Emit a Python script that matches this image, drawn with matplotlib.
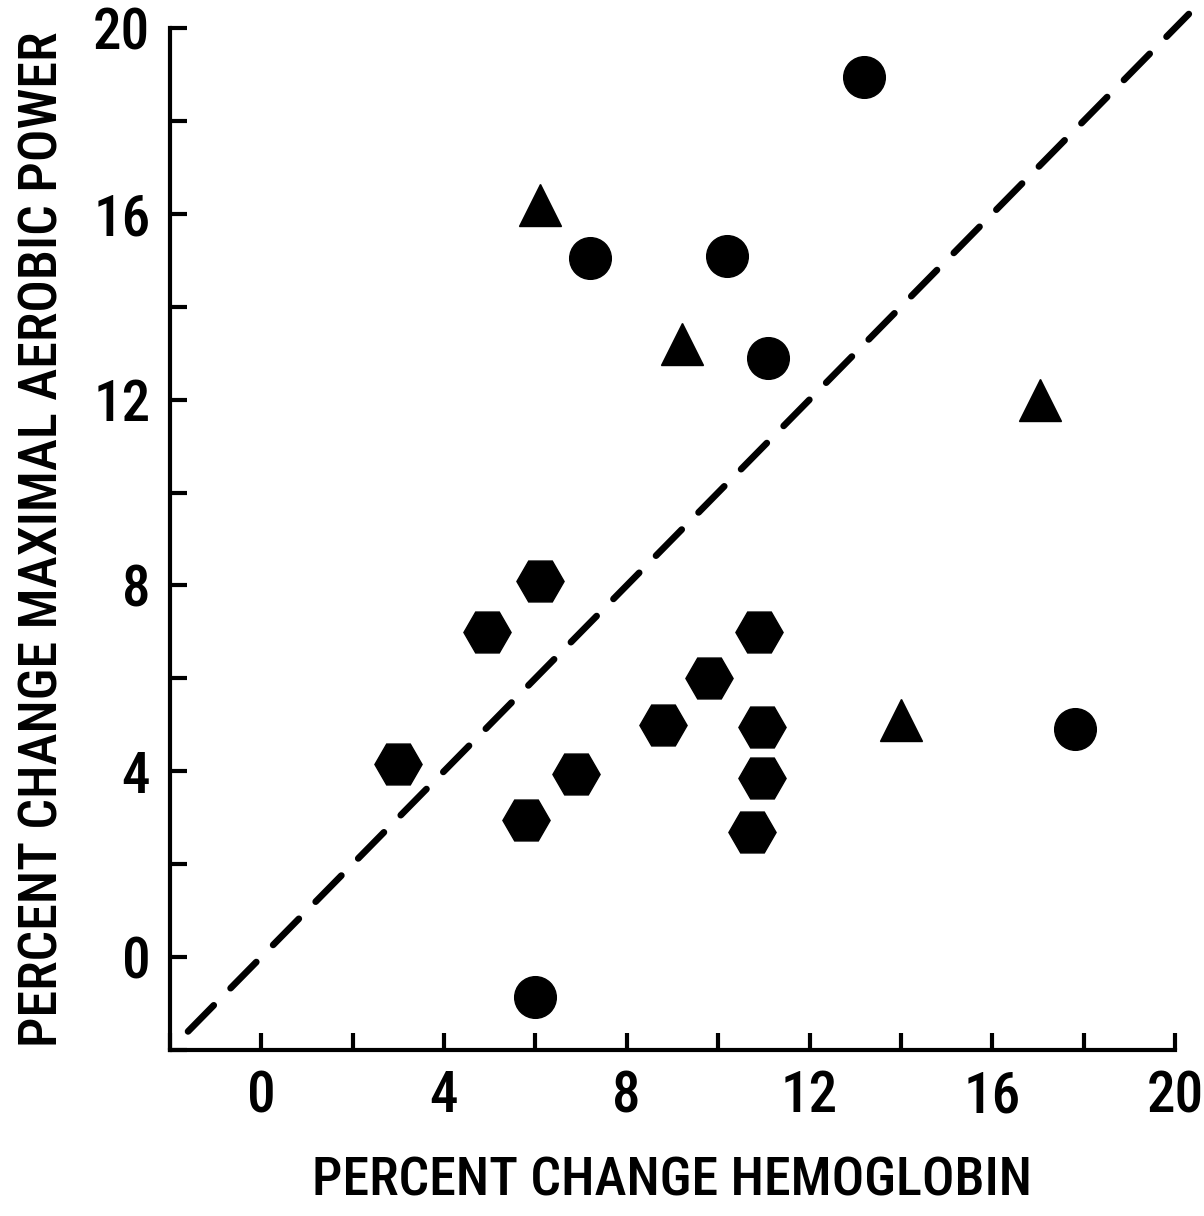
import matplotlib
matplotlib.use('Agg')
import numpy as np
from matplotlib import pyplot as plt
from matplotlib import font_manager

names = sorted(set(f.name for f in font_manager.fontManager.ttflist))
fam = 'Liberation Sans'
for cand in ['Roboto Condensed', 'Liberation Sans Narrow', 'Open Sans Condensed', 'Noto Sans Condensed']:
    if cand in names:
        fam = cand
        break
plt.rcParams['font.family'] = [fam, 'DejaVu Sans']
plt.rcParams['font.weight'] = 'medium'
plt.rcParams['axes.labelweight'] = 'medium'

# circles
circle_x = [13.2, 7.2, 10.2, 11.1, 17.8, 6.0]
circle_y = [18.95, 15.05, 15.1, 12.9, 4.9, -0.85]

# triangles
tri_x = [6.1, 9.2, 17.05, 14.0]
tri_y = [16.2, 13.2, 12.0, 5.1]

# hexagons
hex_x = [3.0, 4.95, 6.1, 5.8, 6.9, 8.8, 9.8, 10.9, 10.95, 10.95, 10.75]
hex_y = [4.15, 7.0, 8.1, 2.95, 3.95, 5.0, 6.0, 7.0, 4.95, 3.85, 2.7]

# identity line
line_x = [-1.6, 20.3]
line_y = [-1.6, 20.3]

ticks = [0, 4, 8, 12, 16, 20]
minor = [-2, 2, 6, 10, 14, 18]

fig = plt.figure(figsize=(12.04, 12.16), dpi=100)
ax = fig.add_axes([0.141, 0.1365, 0.835, 0.8405])

ax.plot(line_x, line_y, color='black', lw=4.8, dashes=(5.5, 3.6),
        solid_capstyle='round', dash_capstyle='round', clip_on=False)

ax.plot(circle_x, circle_y, 'o', color='black', markersize=30, clip_on=False)
ax.plot(tri_x, tri_y, '^', color='black', markersize=30, clip_on=False)
ax.plot(hex_x, hex_y, 'H', color='black', markersize=34, clip_on=False)

ax.set_xlim(-2, 20)
ax.set_ylim(-2, 20)
ax.set_xticks(ticks)
ax.set_yticks(ticks)
ax.set_xticks(minor, minor=True)
ax.set_yticks(minor, minor=True)

ax.tick_params(which='both', direction='in', length=12, width=3, color='black')
ax.tick_params(axis='both', which='major', labelsize=41, pad=14)

ax.spines['top'].set_visible(False)
ax.spines['right'].set_visible(False)
ax.spines['bottom'].set_linewidth(3)
ax.spines['left'].set_linewidth(3)

ax.set_xlabel('PERCENT CHANGE HEMOGLOBIN', fontsize=39, labelpad=22)
ax.set_ylabel('PERCENT CHANGE MAXIMAL AEROBIC POWER', fontsize=39, labelpad=18)

plt.savefig('out.png', dpi=100)
plt.close()
